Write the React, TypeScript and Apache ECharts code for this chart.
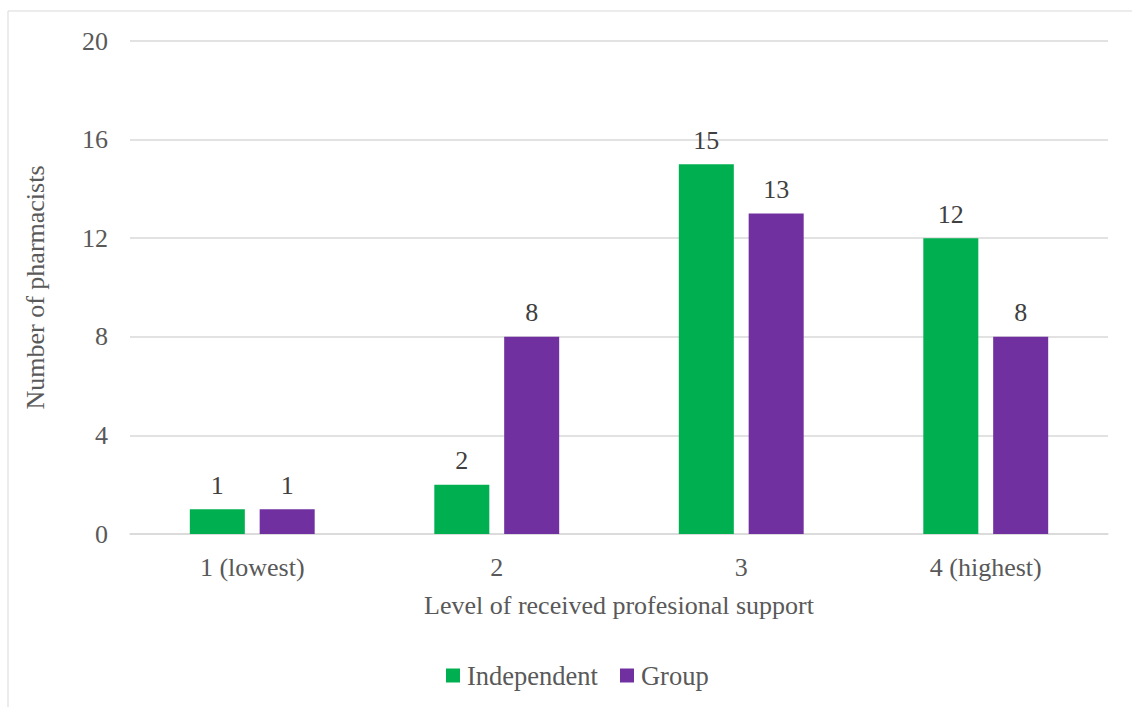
import React, { useEffect, useRef } from "react";
import * as echarts from "echarts";

const categories = ["1 (lowest)", "2", "3", "4 (highest)"];
const independent = [1, 2, 15, 12];
const group = [1, 8, 13, 8];
const yTicks = { min: 0, max: 20, interval: 4 };

const FONT = "Liberation Serif";

export default function App() {
  const ref = useRef<HTMLDivElement>(null);
  useEffect(() => {
    if (!ref.current) return;
    const chart = echarts.init(ref.current, null, { renderer: "svg" });
    const labelStyle = {
      show: true,
      position: "top" as const,
      distance: 11,
      fontFamily: FONT,
      fontSize: 26,
      color: "#404040",
    };
    chart.setOption({
      animation: false,
      textStyle: { fontFamily: FONT },
      graphic: [
        {
          type: "rect",
          shape: { x: 8, y: 11, width: 1140, height: 720 },
          style: { fill: "none", stroke: "#d9d9d9", lineWidth: 1 },
          silent: true,
        },
      ],
      grid: { left: 130, right: 24, top: 41, bottom: 173, containLabel: false },
      legend: {
        data: ["Independent", "Group"],
        left: 441,
        top: 657,
        itemWidth: 14,
        itemHeight: 14,
        itemGap: 22,
        icon: "rect",
        textStyle: {
          fontFamily: FONT,
          fontSize: 26.5,
          color: "#595959",
          padding: [0, 0, 0, 2],
        },
      },
      xAxis: {
        type: "category",
        data: categories,
        axisTick: { show: false },
        axisLine: { lineStyle: { color: "#d9d9d9", width: 1.5 } },
        axisLabel: { fontFamily: FONT, fontSize: 26, color: "#595959", margin: 20 },
        name: "Level of received profesional support",
        nameLocation: "middle",
        nameGap: 58,
        nameTextStyle: { fontFamily: FONT, fontSize: 26, color: "#595959" },
      },
      yAxis: {
        type: "value",
        min: yTicks.min,
        max: yTicks.max,
        interval: yTicks.interval,
        axisLine: { show: false },
        axisTick: { show: false },
        splitLine: { lineStyle: { color: "#d9d9d9", width: 1.5 } },
        axisLabel: { fontFamily: FONT, fontSize: 26, color: "#595959", margin: 22 },
        name: "Number of pharmacists",
        nameLocation: "middle",
        nameGap: 82,
        nameRotate: 90,
        nameTextStyle: { fontFamily: FONT, fontSize: 26, color: "#595959" },
      },
      series: [
        {
          name: "Independent",
          type: "bar",
          data: independent,
          barWidth: "22.5%",
          barGap: "27%",
          itemStyle: { color: "#00B050" },
          label: labelStyle,
        },
        {
          name: "Group",
          type: "bar",
          data: group,
          barWidth: "22.5%",
          itemStyle: { color: "#7030A0" },
          label: labelStyle,
        },
      ],
    });
    return () => chart.dispose();
  }, []);
  return (
    <div
      ref={ref}
      style={{ position: "absolute", left: 0, top: 0, width: 1132, height: 707 }}
    />
  );
}
